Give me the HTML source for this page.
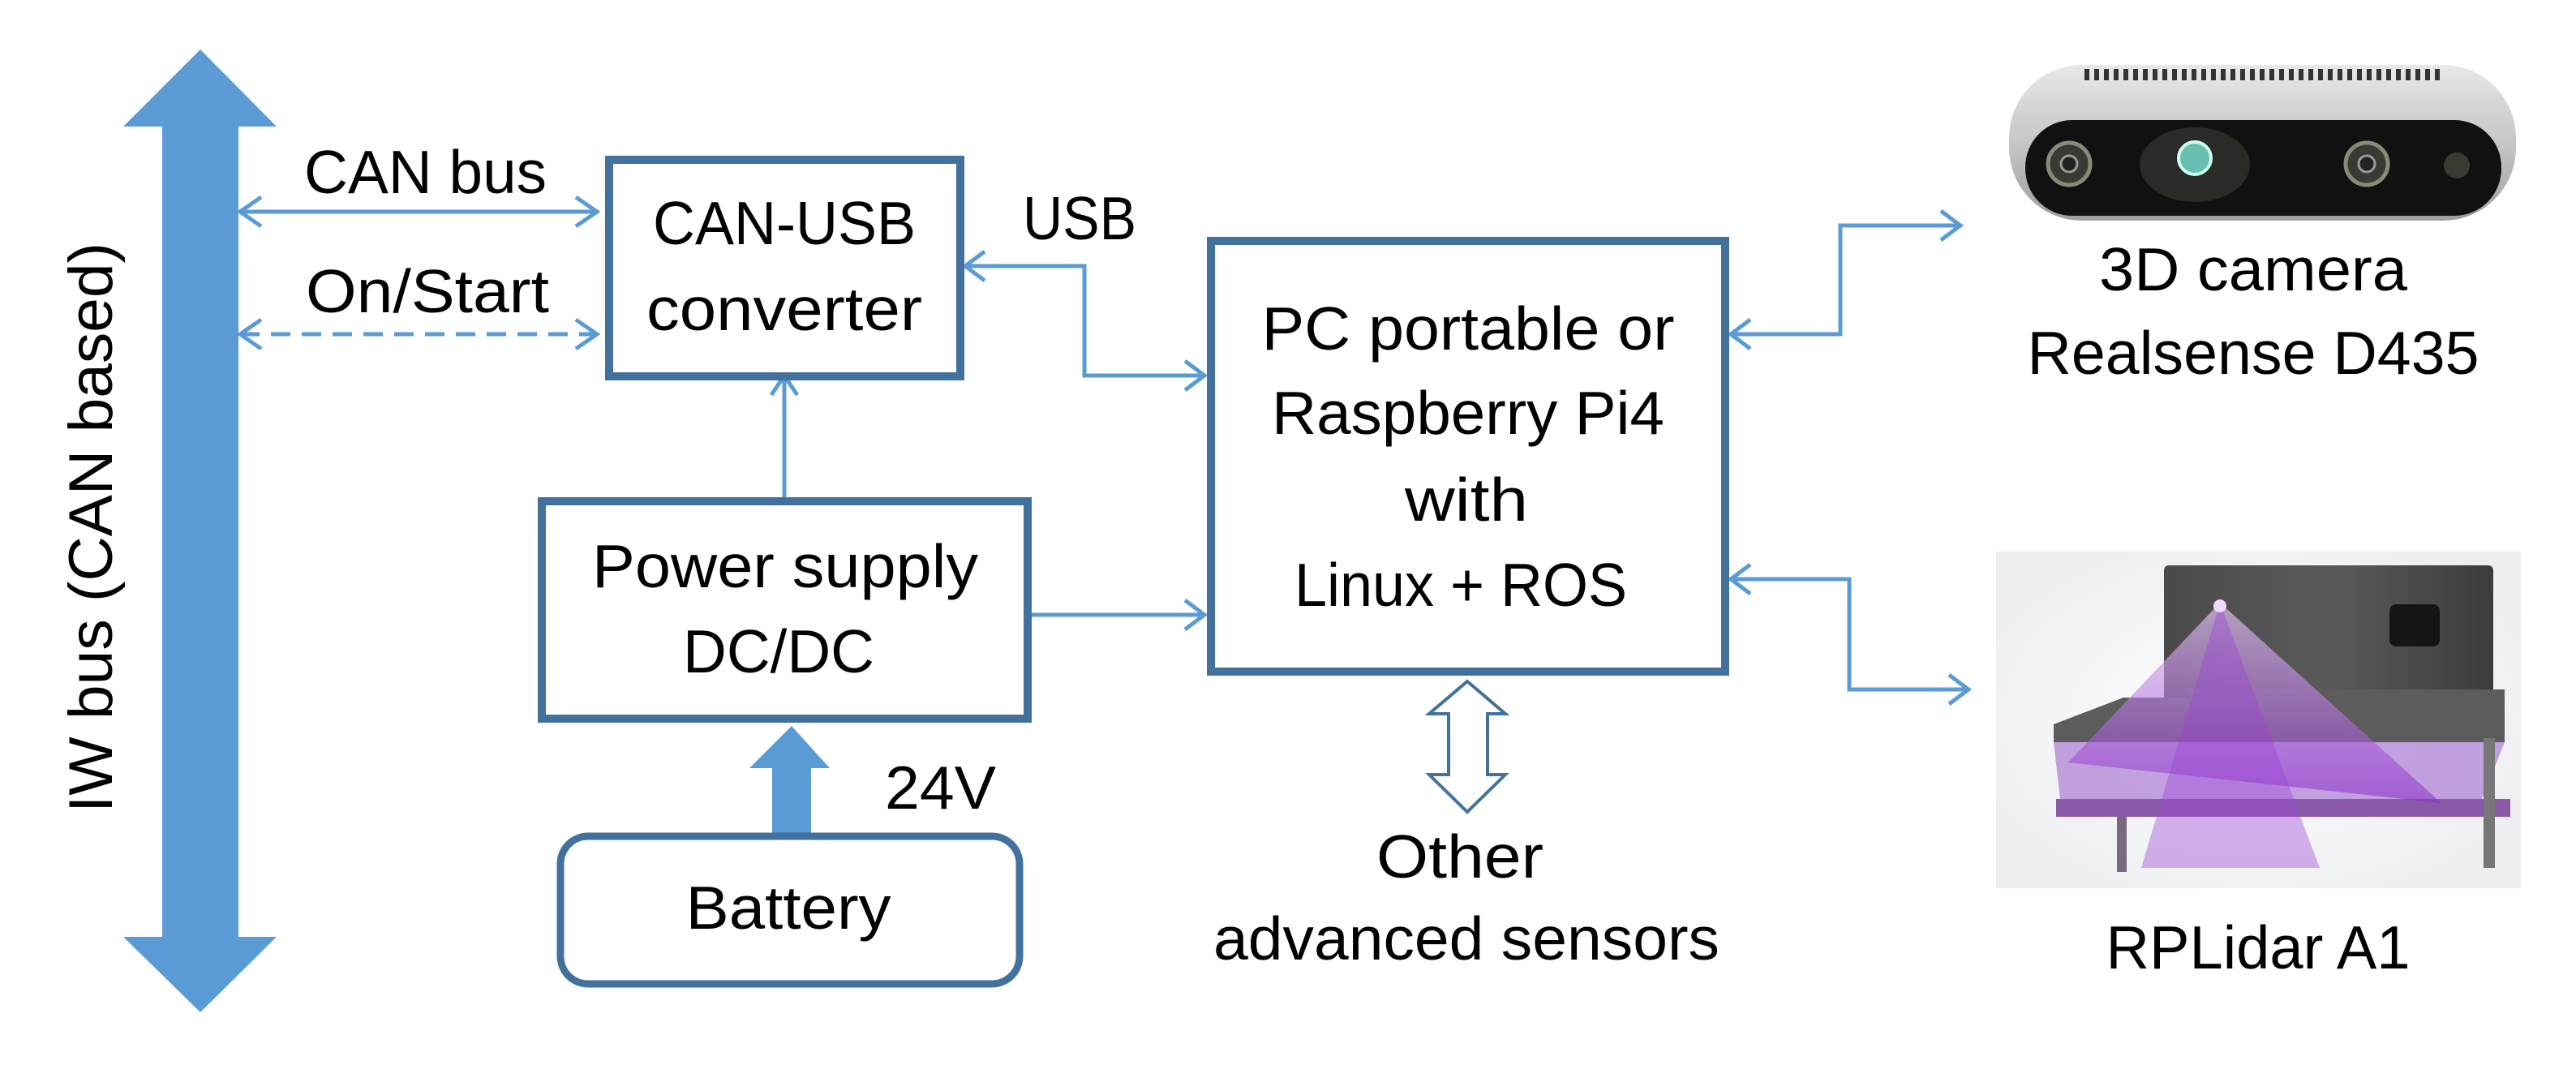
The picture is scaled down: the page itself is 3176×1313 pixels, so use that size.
<!DOCTYPE html>
<html><head><meta charset="utf-8"><style>
html,body{margin:0;padding:0;background:#fff;}
svg{display:block;}
text{font-family:"Liberation Sans",sans-serif;fill:#000;}
</style></head><body>
<svg width="3176" height="1313" viewBox="0 0 3176 1313" xmlns="http://www.w3.org/2000/svg">
<defs>
<radialGradient id="lbg" cx="50%" cy="50%" r="60%"><stop offset="0" stop-color="#ffffff"/><stop offset="1" stop-color="#eceef0"/></radialGradient>
<linearGradient id="cyl" x1="0" x2="1"><stop offset="0" stop-color="#4a4a4a"/><stop offset="0.5" stop-color="#5a5a5a"/><stop offset="1" stop-color="#3c3c3c"/></linearGradient>
<linearGradient id="cam" x1="0" y1="0" x2="0" y2="1"><stop offset="0" stop-color="#e8e8ea"/><stop offset="0.5" stop-color="#c4c6c8"/><stop offset="1" stop-color="#9c9ea0"/></linearGradient>
<linearGradient id="beam" x1="0" y1="0" x2="0" y2="1"><stop offset="0" stop-color="#e8c8f8" stop-opacity="0.9"/><stop offset="1" stop-color="#8a2cc8" stop-opacity="0.75"/></linearGradient>
</defs>

<!-- Big double arrow -->
<polygon points="247,61 341,156 294,156 294,1155 341,1155 247,1248 152,1155 200,1155 200,156 152,156" fill="#5b9bd5"/>
<text x="0" y="0" font-size="76" transform="translate(138,1002) rotate(-90)" textLength="703" lengthAdjust="spacingAndGlyphs">IW bus (CAN based)</text>

<g stroke="#5b9bd5" stroke-width="5" fill="none">
<line x1="296" y1="261" x2="736" y2="261"/>
<polyline points="322,243 296,261 322,279"/>
<polyline points="710,243 736,261 710,279"/>
<line x1="296" y1="412" x2="736" y2="412" stroke-dasharray="24,14"/>
<polyline points="322,394 296,412 322,430"/>
<polyline points="710,394 736,412 710,430"/>
<polyline points="1190,328 1337,328 1337,463 1485,463"/>
<polyline points="1214,310 1190,328 1214,346"/>
<polyline points="1461,445 1485,463 1461,481"/>
<line x1="967" y1="614" x2="967" y2="463"/>
<polyline points="951,487 967,463 983,487"/>
<line x1="1271" y1="758" x2="1485" y2="758"/>
<polyline points="1461,740 1485,758 1461,776"/>
<polyline points="2134,412 2269,412 2269,278 2417,278"/>
<polyline points="2158,394 2134,412 2158,430"/>
<polyline points="2393,260 2417,278 2393,296"/>
<polyline points="2134,714 2280,714 2280,850 2427,850"/>
<polyline points="2158,696 2134,714 2158,732"/>
<polyline points="2403,832 2427,850 2403,868"/>
</g>
<text x="375" y="238" font-size="75" textLength="299" lengthAdjust="spacingAndGlyphs">CAN bus</text>
<text x="377" y="385" font-size="75" textLength="300" lengthAdjust="spacingAndGlyphs">On/Start</text>

<rect x="751" y="197" width="433" height="267" fill="#fff" stroke="#41719c" stroke-width="10"/>
<text x="967" y="301" font-size="75" text-anchor="middle" textLength="324" lengthAdjust="spacingAndGlyphs">CAN-USB</text>
<text x="967" y="407" font-size="75" text-anchor="middle" textLength="340" lengthAdjust="spacingAndGlyphs">converter</text>
<text x="1261" y="295" font-size="75" textLength="140" lengthAdjust="spacingAndGlyphs">USB</text>

<rect x="668" y="618" width="599" height="268" fill="#fff" stroke="#41719c" stroke-width="10"/>
<text x="968" y="724" font-size="75" text-anchor="middle" textLength="476" lengthAdjust="spacingAndGlyphs">Power supply</text>
<text x="960" y="829" font-size="75" text-anchor="middle" textLength="236" lengthAdjust="spacingAndGlyphs">DC/DC</text>

<polygon points="976,895 1023,947 1000,947 1000,1031 952,1031 952,947 924,947" fill="#5b9bd5"/>
<text x="1091" y="997" font-size="75" textLength="137" lengthAdjust="spacingAndGlyphs">24V</text>

<rect x="691" y="1031" width="566" height="182" rx="34" fill="#fff" stroke="#41719c" stroke-width="9"/>
<text x="972" y="1145" font-size="75" text-anchor="middle" textLength="253" lengthAdjust="spacingAndGlyphs">Battery</text>

<rect x="1493" y="297" width="634" height="531" fill="#fff" stroke="#41719c" stroke-width="10"/>
<text x="1810" y="431" font-size="75" text-anchor="middle" textLength="509" lengthAdjust="spacingAndGlyphs">PC portable or</text>
<text x="1810" y="535" font-size="75" text-anchor="middle" textLength="484" lengthAdjust="spacingAndGlyphs">Raspberry Pi4</text>
<text x="1808" y="642" font-size="75" text-anchor="middle" textLength="152" lengthAdjust="spacingAndGlyphs">with</text>
<text x="1801" y="747" font-size="75" text-anchor="middle" textLength="410" lengthAdjust="spacingAndGlyphs">Linux + ROS</text>

<polygon points="1809,840 1856,880 1834,880 1834,955 1856,955 1809,1001 1762,955 1786,955 1786,880 1762,880" fill="#fff" stroke="#41719c" stroke-width="4"/>
<text x="1800" y="1082" font-size="75" text-anchor="middle" textLength="206" lengthAdjust="spacingAndGlyphs">Other</text>
<text x="1808" y="1183" font-size="75" text-anchor="middle" textLength="624" lengthAdjust="spacingAndGlyphs">advanced sensors</text>

<!-- Camera -->
<rect x="2477" y="80" width="625" height="192" rx="90" fill="url(#cam)"/>
<rect x="2497" y="148" width="587" height="118" rx="58" fill="#111"/>
<line x1="2570" y1="92" x2="3010" y2="92" stroke="#333" stroke-dasharray="6,6" stroke-width="14"/>
<circle cx="2551" cy="202" r="26" fill="#3a3a34" stroke="#8a8a78" stroke-width="5"/>
<circle cx="2551" cy="202" r="10" fill="#222" stroke="#999" stroke-width="3"/>
<ellipse cx="2706" cy="203" rx="68" ry="46" fill="#2a2a26"/>
<circle cx="2706" cy="195" r="20" fill="#6ac0b0" stroke="#cfe" stroke-width="4"/>
<circle cx="2918" cy="202" r="26" fill="#3a3a34" stroke="#8a8a78" stroke-width="5"/>
<circle cx="2918" cy="202" r="10" fill="#222" stroke="#999" stroke-width="3"/>
<circle cx="3029" cy="204" r="16" fill="#3a3a30"/>
<text x="2778" y="358" font-size="75" text-anchor="middle" textLength="380" lengthAdjust="spacingAndGlyphs">3D camera</text>
<text x="2778" y="461" font-size="75" text-anchor="middle" textLength="557" lengthAdjust="spacingAndGlyphs">Realsense D435</text>

<!-- Lidar -->
<rect x="2461" y="680" width="647" height="415" fill="url(#lbg)"/>
<rect x="2668" y="697" width="406" height="170" rx="6" fill="url(#cyl)"/>
<rect x="2946" y="745" width="62" height="52" rx="8" fill="#151515"/>
<path d="M2532,893 L2618,860 L2700,860 L2700,850 L3088,850 L3088,915 L2532,915 Z" fill="#5c5c5c"/>
<path d="M2532,915 L3088,915 L3060,985 L2540,985 Z" fill="#b48ad8" opacity="0.8"/>
<rect x="2535" y="985" width="560" height="22" fill="#8a5aa8"/>
<rect x="2610" y="1007" width="12" height="68" fill="#7a6a80"/>
<rect x="3062" y="910" width="14" height="160" fill="#777"/>
<polygon points="2737,743 2550,940 3010,990" fill="url(#beam)" opacity="0.75"/>
<polygon points="2737,743 2640,1070 2860,1070" fill="#9a44d4" opacity="0.4"/>
<circle cx="2737" cy="747" r="8" fill="#f3d8ff"/>
<text x="2784" y="1194" font-size="75" text-anchor="middle" textLength="375" lengthAdjust="spacingAndGlyphs">RPLidar A1</text>
</svg>
</body></html>
